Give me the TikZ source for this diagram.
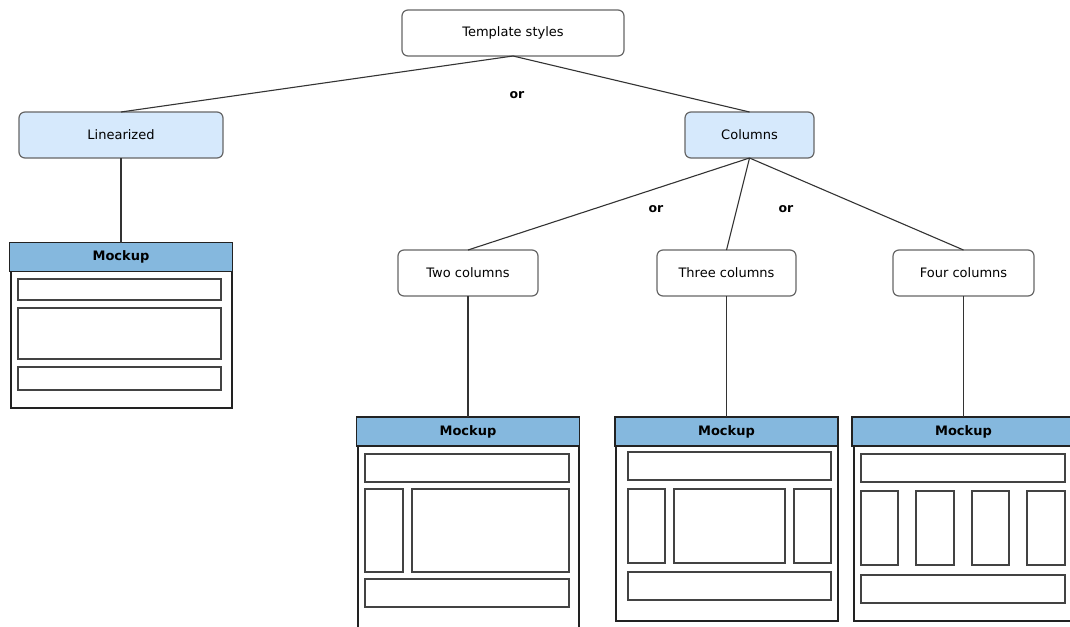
\documentclass[tikz,border=0pt]{standalone}
\usepackage{fontspec}
\setmainfont{DejaVu Sans}
\definecolor{nodeborder}{HTML}{666666}
\definecolor{lightblue}{HTML}{D6E9FC}
\definecolor{headerblue}{HTML}{85B8DE}
\definecolor{wire}{HTML}{333333}
\definecolor{frame}{HTML}{222222}
\tikzset{
  choice/.style={draw=nodeborder, line width=1.2pt, rounded corners=6pt, fill=white,
    inner sep=0pt, outer sep=0pt, font=\fontsize{13}{15}\selectfont},
  branch/.style={choice, fill=lightblue},
  header/.style={draw=frame, line width=1.1pt, fill=headerblue, inner sep=0pt, outer sep=0pt,
    minimum width=223pt, minimum height=29pt, font=\fontsize{13}{15}\selectfont\bfseries},
  bodybox/.style={draw=frame, line width=1.1pt, fill=white},
  panel/.style={draw=frame!85, line width=1.1pt, fill=white},
  wireline/.style={draw=wire, line width=1.1pt},
  orlabel/.style={font=\fontsize{12.5}{14}\selectfont\bfseries, inner sep=0pt}
}
\begin{document}
\begin{tikzpicture}[x=1pt, y=-1pt]
\useasboundingbox[fill=white] (0,0) rectangle (1070,626);

% decision tree nodes
\node[choice, minimum width=222pt, minimum height=46pt] (tmpl) at (513,33) {\raisebox{-1.5pt}{Template styles}};
\node[branch, minimum width=204pt, minimum height=46pt] (lin) at (121,135) {\raisebox{-1.5pt}{Linearized}};
\node[branch, minimum width=129pt, minimum height=46pt] (cols) at (749.5,135) {\raisebox{-1.5pt}{Columns}};
\node[choice, minimum width=140pt, minimum height=46pt] (two) at (468,273) {\raisebox{-1.5pt}{Two columns}};
\node[choice, minimum width=139pt, minimum height=46pt] (three) at (726.5,273) {\raisebox{-1.5pt}{Three columns}};
\node[choice, minimum width=141pt, minimum height=46pt] (four) at (963.5,273) {\raisebox{-1.5pt}{Four columns}};

% mockup headers
\node[header] (mk1) at (121,257) {Mockup};
\node[header] (mk2) at (468,431.5) {Mockup};
\node[header] (mk3) at (726.5,431.5) {Mockup};
\node[header] (mk4) at (963.5,431.5) {Mockup};

% connectors
\draw[wireline] (tmpl.south) -- (lin.north);
\draw[wireline] (tmpl.south) -- (cols.north);
\draw[wireline] (cols.south) -- (two.north);
\draw[wireline] (cols.south) -- (three.north);
\draw[wireline] (cols.south) -- (four.north);
\draw[wireline] (lin.south) -- (mk1.north);
\draw[wireline] (two.south) -- (mk2.north);
\draw[wireline] (three.south) -- (mk3.north);
\draw[wireline] (four.south) -- (mk4.north);

\node[orlabel] (or1) at (517,95) {or};
\node[orlabel] (or2) at (656,209) {or};
\node[orlabel] (or3) at (786,209) {or};

% linearized mockup
\draw[bodybox] (11,271.5) rectangle (232,408);
\draw[panel] (18,279) rectangle (221,300);
\draw[panel] (18,308) rectangle (221,359);
\draw[panel] (18,367) rectangle (221,390);

% two-column mockup
\draw[bodybox] (358,446) rectangle (579,640);
\draw[panel] (365,454) rectangle (569,482);
\draw[panel] (365,489) rectangle (403,572);
\draw[panel] (412,489) rectangle (569,572);
\draw[panel] (365,579) rectangle (569,607);

% three-column mockup
\draw[bodybox] (616,446) rectangle (838,621);
\draw[panel] (628,452) rectangle (831,480);
\draw[panel] (628,489) rectangle (665,563);
\draw[panel] (674,489) rectangle (785,563);
\draw[panel] (794,489) rectangle (831,563);
\draw[panel] (628,572) rectangle (831,600);

% four-column mockup
\draw[bodybox] (854,446) rectangle (1080,621);
\draw[panel] (861,454) rectangle (1065,482);
\draw[panel] (861,491) rectangle (898,565);
\draw[panel] (916,491) rectangle (954,565);
\draw[panel] (972,491) rectangle (1009,565);
\draw[panel] (1027,491) rectangle (1065,565);
\draw[panel] (861,575) rectangle (1065,603);
\end{tikzpicture}
\end{document}
